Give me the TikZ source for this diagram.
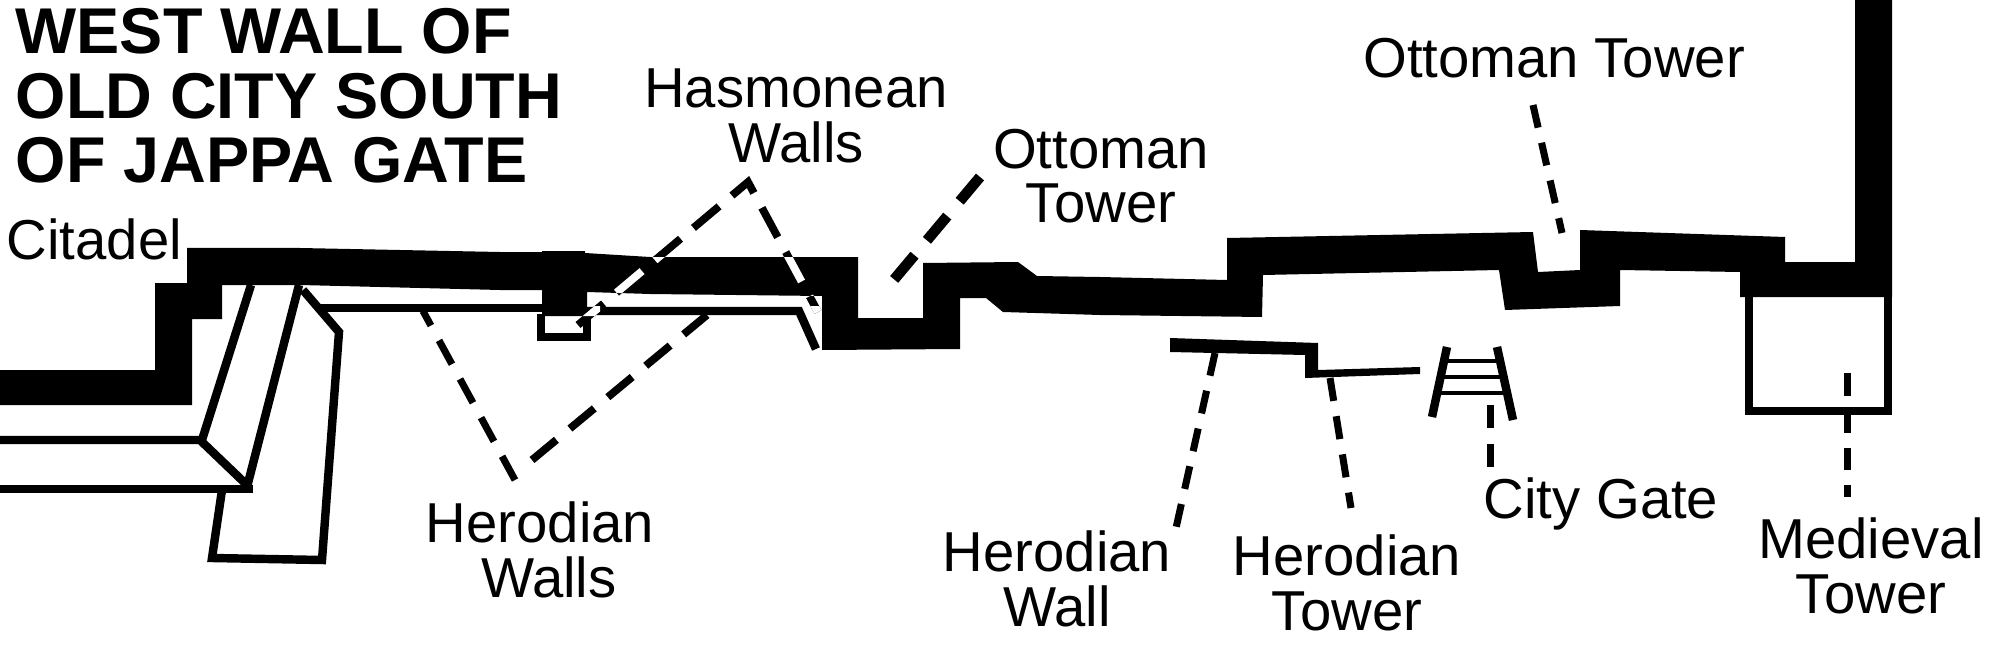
\documentclass[tikz,border=0pt]{standalone}
\usepackage{fontspec}
\setmainfont{Liberation Sans}
\usetikzlibrary{positioning,calc}
\newcommand{\wallpath}{(0,370) -- (155,370) -- (155,283) -- (187,283) -- (187,248) -- (300,248) -- (500,252) -- (542,252) -- (542,251) -- (585,251) -- (585,253) -- (650,257) -- (858,257) -- (858,318) -- (923,318) -- (923,263) -- (1018,262) -- (1037,276) -- (1100,277) -- (1227,280) -- (1227,238) -- (1533,232) -- (1538,272) -- (1580,270) -- (1580,230) -- (1785,237) -- (1785,262) -- (1855,262) -- (1855,0) -- (1892,0) -- (1892,297) -- (1740,297) -- (1740,272) -- (1620,270) -- (1620,306) -- (1505,310) -- (1499,270) -- (1263,275) -- (1262,317) -- (1100,315) -- (1003,312) -- (986,298) -- (960,298) -- (960,349) -- (822,350) -- (822,296) -- (650,294) -- (587,292) -- (587,316) -- (542,316) -- (542,290) -- (500,290) -- (300,285) -- (222,285) -- (222,319) -- (192,319) -- (192,405) -- (0,405) -- cycle}
\newcommand{\hasleader}{(hasL) -- (hasTop) -- (hasR)}
\begin{document}
\begin{tikzpicture}[x=0.01cm,y=-0.01cm,
  lbl/.style={font=\fontsize{16pt}{15.5pt}\selectfont,align=center,inner sep=0pt},
  heading/.style={font=\fontsize{18.4pt}{18.3pt}\selectfont\bfseries,align=left,inner sep=0pt,anchor=north west},
  thinwall/.style={line width=2.4pt,miter limit=20},
  leader/.style={line width=2pt,dash pattern=on 6.6pt off 4.4pt},
  longleader/.style={line width=2.2pt,dash pattern=on 9pt off 5pt}]
\useasboundingbox (0,0) rectangle (2000,667);
% main wall
\fill \wallpath;
% thin walls
\draw[thinwall] (0,440) -- (200,440) -- (247,485);
\draw[thinwall] (0,489) -- (253,489);
\draw[thinwall] (251,285) -- (202,440);
\draw[thinwall] (299,285) -- (247,487);
\draw[thinwall] (303,290) -- (339,332) -- (322,560) -- (212,558) -- (222,490);
\draw[thinwall] (320,308) -- (542,308);
\draw[thinwall] (587,311) -- (799,311) -- (816,349);
\draw[thinwall] (541,314) -- (541,337) -- (587,337) -- (587,314);
\draw[thinwall] (1749,295) -- (1749,411) -- (1888,411) -- (1888,295);
% herodian wall piece
\fill (1170,338) -- (1318,343) -- (1318,370) -- (1420,367) -- (1420,374) -- (1305,378) -- (1305,355) -- (1170,352) -- cycle;
% gate
\draw[thinwall] (1447,347) -- (1432,417);
\draw[thinwall] (1497,347) -- (1513,420);
\draw[line width=1.2pt] (1442,361) -- (1500,361);
\draw[line width=1.2pt] (1438,377) -- (1504,377);
\draw[line width=1.2pt] (1434,393) -- (1508,393);
% labels
\node[heading] (title) at (15,8) {WEST WALL OF\\OLD CITY SOUTH\\OF JAPPA GATE};
\node[lbl,anchor=base west] (citadel) at (6,260) {Citadel};
\node[lbl] (hasmonean) at (796,116) {Hasmonean\\Walls};
\node[lbl] (ottomanA) at (1101,176) {Ottoman\\Tower};
\node[lbl] (ottomanB) at (1554,58) {Ottoman Tower};
\node[lbl] (herodianW) at (540,550) {Herodian\\\hspace*{5pt}Walls};
\node[lbl] (herodianA) at (1057,579) {Herodian\\Wall};
\node[lbl] (herodianB) at (1347,583) {Herodian\\Tower};
\node[lbl] (gate) at (1601,504) {City Gate};
\node[lbl] (medieval) at (1871,566) {Medieval\\Tower};
% leaders
\coordinate (hasTop) at (748,182);
\coordinate (hasL) at (578,325);
\coordinate (hasR) at (818,312);
\coordinate (herL) at (423,311);
\coordinate (herM) at (515,480);
\coordinate (herC) at (532,460);
\coordinate (herR) at (707,315);
\draw[leader,dash pattern=on 7.7pt off 4.8pt] (herM) -- (herL);
\draw[longleader] (herC) -- (herR);
\draw[longleader,dash pattern=on 9.5pt off 4.8pt] \hasleader;
\begin{scope}
  \clip \wallpath (587,306) rectangle (600,316) (806,306) rectangle (822,316);
  \draw[longleader,white,dash pattern=on 9.5pt off 4.8pt] \hasleader;
\end{scope}
\coordinate (otA) at (980,177);
\coordinate (otB) at (892,282);
\draw[longleader,line width=3pt,dash pattern=on 9pt off 5.5pt] (otA) -- (otB);
\coordinate (otC) at (1533,105);
\coordinate (otD) at (1562,233);
\draw[leader] (otC) -- (otD);
\coordinate (hwA) at (1215,353);
\coordinate (hwB) at (1176,528);
\draw[leader] (hwA) -- (hwB);
\coordinate (htA) at (1330,378);
\coordinate (htB) at (1351,508);
\draw[leader] (htA) -- (htB);
\coordinate (gtA) at (1490,405);
\coordinate (gtB) at (1490,467);
\draw[leader] (gtA) -- (gtB);
\coordinate (mdA) at (1847,373);
\coordinate (mdB) at (1847,497);
\draw[leader,dash pattern=on 6.4pt off 4.2pt] (mdA) -- (mdB);
\end{tikzpicture}
\end{document}
